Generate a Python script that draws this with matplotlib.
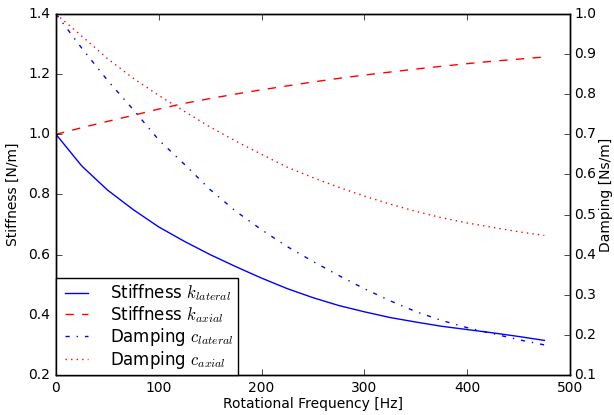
import numpy as np
import matplotlib
matplotlib.use("Agg")
import matplotlib.pyplot as plt

# rotational frequency [Hz]
freq = [0, 25, 50, 75, 100, 125, 150, 175, 200, 225, 250,
        275, 300, 325, 350, 375, 400, 425, 450, 475]

# stiffness [N/m]
k_lateral = [1.000, 0.895, 0.815, 0.750, 0.692, 0.644, 0.600, 0.560, 0.522, 0.487, 0.457,
             0.431, 0.410, 0.391, 0.376, 0.362, 0.351, 0.340, 0.328, 0.315]
k_axial = [1.000, 1.022, 1.043, 1.063, 1.084, 1.103, 1.119, 1.134, 1.148, 1.161, 1.174,
           1.186, 1.197, 1.207, 1.217, 1.226, 1.235, 1.243, 1.250, 1.257]

# damping [Ns/m]
c_lateral = [1.000, 0.915, 0.835, 0.762, 0.686, 0.625, 0.562, 0.508, 0.462, 0.420, 0.383,
             0.348, 0.315, 0.285, 0.258, 0.236, 0.218, 0.203, 0.188, 0.175]
c_axial = [1.000, 0.945, 0.889, 0.840, 0.797, 0.757, 0.718, 0.683, 0.650, 0.618, 0.592,
           0.568, 0.546, 0.526, 0.508, 0.492, 0.479, 0.468, 0.457, 0.448]

plt.style.use('classic')
plt.rcParams['figure.facecolor'] = 'white'
plt.rcParams['savefig.facecolor'] = 'white'
plt.rcParams['font.size'] = 10
plt.rcParams['mathtext.fontset'] = 'cm'

fig = plt.figure(figsize=(6.14, 4.15), dpi=100)
ax1 = fig.add_axes([0.0912, 0.0964, 0.8372, 0.8699])
ax2 = ax1.twinx()

l1, = ax1.plot(freq, k_lateral, 'b-', lw=1, label=r'Stiffness $k_{lateral}$')
l2, = ax1.plot(freq, k_axial, 'r--', lw=1, label=r'Stiffness $k_{axial}$')
l3, = ax2.plot(freq, c_lateral, 'b-.', lw=1, label=r'Damping $c_{lateral}$')
l4, = ax2.plot(freq, c_axial, 'r:', lw=1, label=r'Damping $c_{axial}$')

ax1.set_xlim(0, 500)
ax1.set_ylim(0.2, 1.4)
ax2.set_ylim(0.1, 1.0)
ax1.set_xticks(np.arange(0, 501, 100))
ax1.set_yticks(np.arange(0.2, 1.41, 0.2))
ax2.set_yticks(np.arange(0.1, 1.01, 0.1))
ax2.tick_params(axis='y', pad=3)

ax1.set_xlabel('Rotational Frequency [Hz]', labelpad=2)
ax1.set_ylabel('Stiffness [N/m]', labelpad=6)
ax2.set_ylabel('Damping [Ns/m]', labelpad=2)

leg = ax2.legend(handles=[l1, l2, l3, l4], loc='lower left', borderaxespad=0,
                 fontsize=12, handlelength=2, labelspacing=0.05, borderpad=0.25,
                 handletextpad=1.0)
leg.get_frame().set_linewidth(1)

fig.savefig('out.png', dpi=100)
